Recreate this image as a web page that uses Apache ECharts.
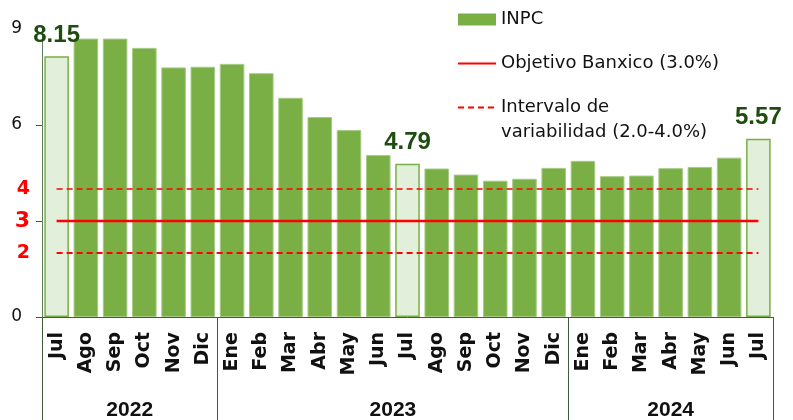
<!DOCTYPE html>
<html>
<head>
<meta charset="utf-8">
<script src="https://cdn.jsdelivr.net/npm/echarts@6/dist/echarts.min.js"></script>
<style>
  html, body { margin: 0; padding: 0; background: #fff; }
  #chart { width: 793px; height: 420px; }
</style>
</head>
<body>
<div id="chart"></div>
<script>
const months = ['Jul', 'Ago', 'Sep', 'Oct', 'Nov', 'Dic',
  'Ene', 'Feb', 'Mar', 'Abr', 'May', 'Jun', 'Jul', 'Ago', 'Sep', 'Oct', 'Nov', 'Dic',
  'Ene', 'Feb', 'Mar', 'Abr', 'May', 'Jun', 'Jul'];
const inpc = [8.15, 8.70, 8.70, 8.41, 7.80, 7.82,
  7.91, 7.62, 6.85, 6.25, 5.84, 5.06, 4.79, 4.64, 4.45, 4.26, 4.32, 4.66,
  4.88, 4.40, 4.42, 4.65, 4.69, 4.98, 5.57];
const highlighted = [0, 12, 24];
const years = ['2022', '2023', '2024'];
const monthsPerYear = [6, 12, 7];
const target = 3.0;
const band = [2.0, 4.0];
const yLabels = [0, 2, 3, 4, 6, 9];
const yTicks = [0, 3, 6];

const NAME_BAR = 'INPC';
const NAME_TARGET = 'Objetivo Banxico (3.0%)';
const NAME_BAND = 'Intervalo de variabilidad (2.0-4.0%)';

// year group edges along the month axis
const edges = [0];
monthsPerYear.forEach(n => edges.push(edges[edges.length - 1] + n));
const yearCenters = years.map((y, i) => (edges[i] + edges[i + 1]) / 2);
const last = months.length - 1;

const chart = echarts.init(document.getElementById('chart'), null, {renderer: 'canvas'});

const legendBase = {
  orient: 'vertical',
  left: 457,
  padding: 0,
  itemWidth: 38,
  itemHeight: 12,
  itemGap: 19,
  selectedMode: false,
  textStyle: {fontFamily: 'DejaVu Sans', fontSize: 18, color: '#111', lineHeight: 25}
};

const option = {
  animation: false,
  textStyle: {fontFamily: 'DejaVu Sans'},
  grid: {left: 42, right: 20, top: 29, bottom: 103, outerBoundsMode: 'none'},
  legend: [Object.assign({}, legendBase, {
    top: 7,
    data: [
      {name: NAME_BAR, icon: 'rect', itemStyle: {color: '#7aaf45', borderWidth: 0}},
      {name: NAME_TARGET, itemStyle: {opacity: 0}}
    ]
  }), Object.assign({}, legendBase, {
    top: 70,
    formatter: () => '\nIntervalo de\nvariabilidad (2.0-4.0%)',
    data: [{name: NAME_BAND, itemStyle: {opacity: 0}}]
  })],
  xAxis: [{
    type: 'category',
    data: months,
    axisLine: {lineStyle: {color: '#3f5a3f', width: 1}},
    axisTick: {show: false},
    axisLabel: {
      rotate: 90, margin: 15, interval: 0,
      fontFamily: 'DejaVu Sans', fontWeight: 'bold', fontSize: 19, color: '#111'
    }
  }, {
    type: 'value',
    position: 'bottom',
    min: 0,
    max: months.length,
    splitLine: {show: false},
    axisLine: {show: false},
    axisTick: {
      show: true, customValues: edges, length: 103,
      lineStyle: {color: '#3f5a3f', width: 1}
    },
    axisLabel: {
      customValues: yearCenters,
      formatter: v => years[yearCenters.indexOf(v)] || '',
      margin: 83,
      fontFamily: 'Liberation Sans', fontWeight: 'bold', fontSize: 21, color: '#111'
    }
  }],
  yAxis: {
    type: 'value',
    min: 0,
    max: 9,
    splitLine: {show: false},
    axisLine: {show: true, lineStyle: {color: '#5f7f5f'}},
    axisTick: {show: true, customValues: yTicks, length: 6, lineStyle: {color: '#3f5a3f'}},
    axisLabel: {
      customValues: yLabels,
      margin: 12,
      formatter: v => {
        if (v === target) return '{big|' + v + '}';
        if (band.includes(v)) return '{red|' + v + '}';
        return '{k|' + v + '}';
      },
      rich: {
        k: {fontFamily: 'DejaVu Sans', fontSize: 17, color: '#111', padding: [0, 8, 0, 0]},
        red: {fontFamily: 'DejaVu Sans', fontWeight: 'bold', fontSize: 19, color: '#ff0000'},
        big: {fontFamily: 'DejaVu Sans', fontWeight: 'bold', fontSize: 22, color: '#ff0000'}
      }
    }
  },
  series: [{
    name: NAME_BAR,
    type: 'bar',
    barCategoryGap: '16%',
    itemStyle: {color: '#7aaf45', borderColor: '#a6cb85', borderWidth: 1},
    label: {
      show: false, position: 'top', distance: 9,
      fontFamily: 'Liberation Sans', fontWeight: 'bold', fontSize: 24, color: '#1e4d10',
      formatter: p => p.value.toFixed(2)
    },
    data: inpc.map((v, i) => highlighted.includes(i) ? {
      value: v,
      itemStyle: {color: '#e2efda', borderColor: '#7aaf45', borderWidth: 1.5},
      label: {show: true}
    } : v)
  }, {
    name: NAME_TARGET,
    type: 'line',
    symbol: 'none',
    z: 5,
    lineStyle: {color: '#ff0000', width: 2.5},
    itemStyle: {color: '#ff0000'},
    data: [[0, target], [last, target]]
  }, {
    name: NAME_BAND,
    type: 'line',
    symbol: 'none',
    z: 5,
    lineStyle: {color: '#ff0000', width: 1.5, type: [6, 4]},
    itemStyle: {color: '#ff0000'},
    data: [[0, band[1]], [last, band[1]]]
  }, {
    name: NAME_BAND,
    type: 'line',
    symbol: 'none',
    z: 5,
    lineStyle: {color: '#ff0000', width: 2, type: [6, 4]},
    itemStyle: {color: '#ff0000'},
    data: [[0, band[0]], [last, band[0]]]
  }]
};

chart.setOption(option);
window.addEventListener('resize', chart.resize);
</script>
</body>
</html>
